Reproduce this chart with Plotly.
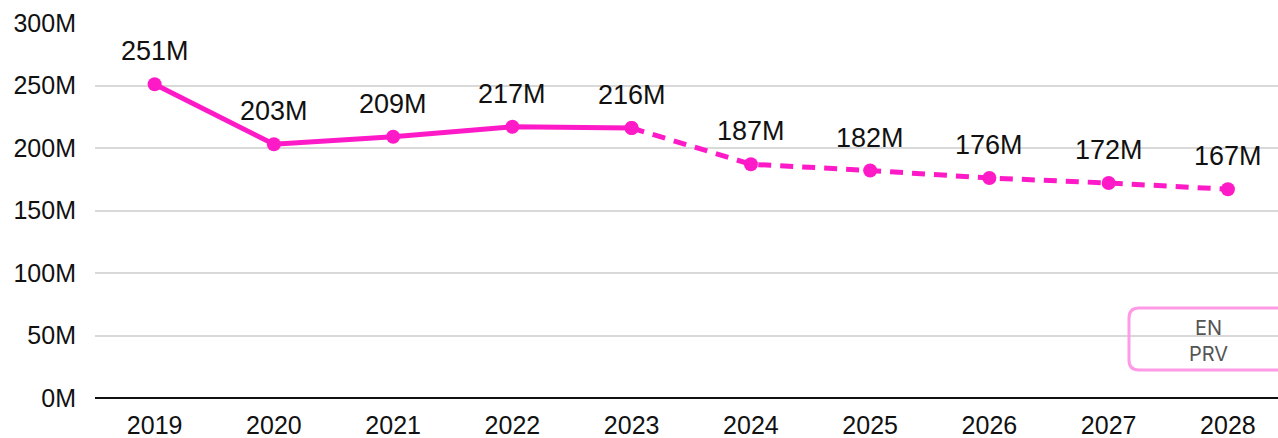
import plotly.graph_objects as go

years = ["2019", "2020", "2021", "2022", "2023", "2024", "2025", "2026", "2027", "2028"]
values = [251, 203, 209, 217, 216, 187, 182, 176, 172, 167]
labels = ["251M", "203M", "209M", "217M", "216M", "187M", "182M", "176M", "172M", "167M"]
y_ticks = [0, 50, 100, 150, 200, 250, 300]
y_tick_text = ["0M", "50M", "100M", "150M", "200M", "250M", "300M"]

actual_end = 4  # index of the last actual year (2023)
pink = "#FF1AC8"
font_family = "Liberation Sans, Arial, sans-serif"

fig = go.Figure()

# actual values: solid line
fig.add_trace(go.Scatter(
    x=years[:actual_end + 1], y=values[:actual_end + 1],
    mode="lines+markers",
    line=dict(color=pink, width=5),
    marker=dict(color=pink, size=14),
    hoverinfo="skip", showlegend=False,
))

# projected values: dashed line
fig.add_trace(go.Scatter(
    x=years[actual_end:], y=values[actual_end:],
    mode="lines+markers",
    line=dict(color=pink, width=5, dash="13px,9px"),
    marker=dict(color=pink, size=14),
    hoverinfo="skip", showlegend=False,
))

# value labels above each point (category index used for x)
for i, (v, t) in enumerate(zip(values, labels)):
    fig.add_annotation(
        x=i, y=v, xref="x", yref="y", text=t, showarrow=False,
        yshift=33, font=dict(size=27, color="#111111", family=font_family),
    )

# corner badge (rounded rectangle, running off the right edge)
W, H = 1278, 438
L, T, B = 95, 23, 40
pw, ph = W - L, H - T - B


def px(x):
    return (x - L) / pw


def py(y):
    return (H - B - y) / ph


x0, x1, y0, y1, r = 1129, 1300, 308, 370, 10
path = (
    f"M {px(x0 + r)},{py(y0)} L {px(x1)},{py(y0)} L {px(x1)},{py(y1)} "
    f"L {px(x0 + r)},{py(y1)} Q {px(x0)},{py(y1)} {px(x0)},{py(y1 - r)} "
    f"L {px(x0)},{py(y0 + r)} Q {px(x0)},{py(y0)} {px(x0 + r)},{py(y0)} Z"
)
fig.add_shape(
    type="path", xref="paper", yref="paper", path=path,
    line=dict(color="#FF9AE6", width=3), fillcolor="rgba(0,0,0,0)",
    layer="above",
)
fig.add_annotation(
    xref="paper", yref="paper",
    x=px(1208), y=py(341), xanchor="center", yanchor="middle",
    text="EN<br>PRV", showarrow=False,
    font=dict(size=20, color="#555555", family="Inter, Roboto, sans-serif"),
    align="center",
)

fig.update_layout(
    width=W, height=H,
    margin=dict(l=L, r=0, t=T, b=B),
    paper_bgcolor="white", plot_bgcolor="white",
    font=dict(family=font_family, size=25, color="#111111"),
    xaxis=dict(
        type="category", range=[-0.5, 9.42],
        showgrid=False, showline=False, zeroline=False,
        ticks="", tickfont=dict(size=25), ticklabelstandoff=10,
    ),
    yaxis=dict(
        range=[0, 300], tickvals=y_ticks, ticktext=y_tick_text,
        showgrid=True, gridcolor="#d9d9d9", gridwidth=1.5,
        zeroline=True, zerolinecolor="#111111", zerolinewidth=2,
        showline=False, ticks="", ticklabelstandoff=18,
        tickfont=dict(size=25),
    ),
)

fig.write_html("out.html")
